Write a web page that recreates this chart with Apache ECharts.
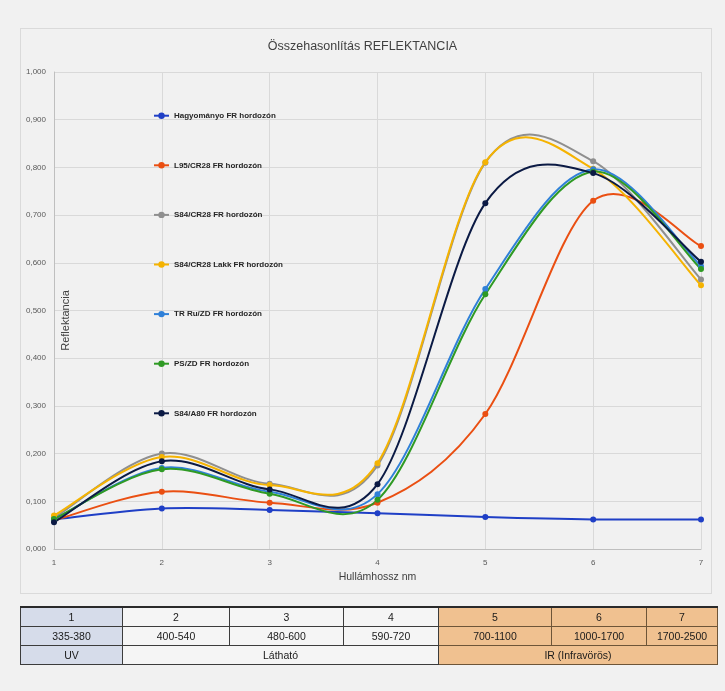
<!DOCTYPE html>
<html>
<head>
<meta charset="utf-8">
<script src="https://cdn.jsdelivr.net/npm/echarts@6/dist/echarts.min.js"></script>
<style>
  html, body { margin:0; padding:0; background:#f1f1f1; }
  #wrap { position:relative; width:725px; height:691px; overflow:hidden; }
  #panel { position:absolute; left:20px; top:28px; width:692px; height:566px; border:1px solid #dadada; box-sizing:border-box; }
  #chart { position:absolute; left:0; top:0; width:725px; height:691px; }
  #tbl { position:absolute; left:20px; top:606px; border-collapse:collapse; table-layout:fixed;
         font-family:"Liberation Sans",Arial,sans-serif; font-size:10.5px; color:#1a1a1a; }
  #tbl td { border:1px solid #3c3c3c; height:18px; padding:0; text-align:center; line-height:18px; background:#f5f5f5; }
  #tbl tr:first-child td { border-top:2px solid #2a2a2a; }
  #tbl td.uv { background:#d6dcea; }
  #tbl td.ir { background:#f0c190; border-color:#6e5538; }
</style>
</head>
<body>
<div id="wrap">
  <div id="panel"></div>
  <div id="chart"></div>
  <table id="tbl"></table>
</div>
<script>
// ---- data ----
const xCats = ['1','2','3','4','5','6','7'];
const seriesNames = ['Hagyományo FR hordozón','L95/CR28 FR hordozón','S84/CR28 FR hordozón','S84/CR28 Lakk FR hordozón','TR Ru/ZD FR hordozón','PS/ZD FR hordozón','S84/A80 FR hordozón'];
const hagyomanyo = [0.062, 0.085, 0.082, 0.075, 0.067, 0.062, 0.062];
const l95cr28    = [0.060, 0.120, 0.097, 0.097, 0.283, 0.730, 0.635];
const s84cr28    = [0.065, 0.200, 0.137, 0.175, 0.810, 0.813, 0.565];
const s84lakk    = [0.070, 0.193, 0.134, 0.180, 0.811, 0.797, 0.553];
const trRuZd     = [0.062, 0.170, 0.120, 0.115, 0.545, 0.796, 0.593];
const psZd       = [0.063, 0.167, 0.116, 0.103, 0.534, 0.791, 0.587];
const s84a80     = [0.056, 0.184, 0.125, 0.136, 0.725, 0.788, 0.602];
const tableNums   = ['1','2','3','4','5','6','7'];
const tableRanges = ['335-380','400-540','480-600','590-720','700-1100','1000-1700','1700-2500'];
const tableBands  = [['UV',1],['Látható',3],['IR (Infravörös)',3]];

const allValues = [hagyomanyo, l95cr28, s84cr28, s84lakk, trRuZd, psZd, s84a80];
const colors = ['#1f3fc6','#ea4f12','#8f8f8f','#f5b301','#2f80d8','#2f9a24','#0b1a44'];
const colW = [102,107,114,95,113,95,71];

// ---- table ----
(function(){
  const t = document.getElementById('tbl');
  let cg = '<colgroup>' + colW.map(w=>'<col style="width:'+w+'px">').join('') + '</colgroup>';
  const cls = i => i===0 ? 'uv' : (i>=4 ? 'ir' : '');
  let r1 = '<tr>' + tableNums.map((v,i)=>'<td class="'+cls(i)+'">'+v+'</td>').join('') + '</tr>';
  let r2 = '<tr>' + tableRanges.map((v,i)=>'<td class="'+cls(i)+'">'+v+'</td>').join('') + '</tr>';
  let r3 = '<tr>' + tableBands.map((b,i)=>'<td colspan="'+b[1]+'" class="'+(i===0?'uv':(i===2?'ir':''))+'">'+b[0]+'</td>').join('') + '</tr>';
  t.innerHTML = cg + r1 + r2 + r3;
})();

// ---- chart ----
function smoothCurve(pts, color){
  const children = [];
  for (let i=0;i<pts.length-1;i++){
    const p0 = pts[i-1] || pts[i], p1 = pts[i], p2 = pts[i+1], p3 = pts[i+2] || pts[i+1];
    children.push({
      type:'bezierCurve',
      shape:{
        x1:p1[0], y1:p1[1],
        cpx1:p1[0]+(p2[0]-p0[0])/6, cpy1:p1[1]+(p2[1]-p0[1])/6,
        cpx2:p2[0]-(p3[0]-p1[0])/6, cpy2:p2[1]-(p3[1]-p1[1])/6,
        x2:p2[0], y2:p2[1]
      },
      style:{stroke:color, lineWidth:2, fill:null}
    });
  }
  return {type:'group', children};
}

const series = [];
allValues.forEach((vals, k) => {
  series.push({
    type:'custom', name:'curve'+k, coordinateSystem:'cartesian2d', silent:true,
    data: vals.map((v,i)=>[i,v]), encode:{x:0,y:1},
    renderItem:(params, api) => {
      if (params.dataIndex !== 0) return null;
      const pts = vals.map((v,i)=>api.coord([i,v]));
      return smoothCurve(pts, colors[k]);
    }
  });
  series.push({
    type:'line', name:seriesNames[k], data:vals, symbol:'circle', symbolSize:6,
    lineStyle:{width:0}, itemStyle:{color:colors[k]}, color:colors[k],
    emphasis:{disabled:true}, silent:true
  });
});

const chart = echarts.init(document.getElementById('chart'), null, {renderer:'canvas'});
const font = '"Liberation Sans",Arial,sans-serif';
chart.setOption({
  animation:false,
  backgroundColor:'transparent',
  title:{ text:'Összehasonlítás REFLEKTANCIA', left:'center', top:40.5, padding:0,
          textStyle:{ fontFamily:font, fontSize:12.5, fontWeight:'normal', color:'#404040' } },
  legend:{ data:seriesNames, orient:'vertical', left:153, top:111.7, padding:0,
           itemWidth:15, itemHeight:8, itemGap:41.6, lineStyle:{width:2},
           textStyle:{ fontFamily:font, fontSize:8, lineHeight:8, fontWeight:'bold', color:'#262626' } },
  grid:{ left:54, right:24, top:72, bottom:142 },
  xAxis:{ type:'category', data:xCats, boundaryGap:false,
          name:'Hullámhossz nm', nameLocation:'middle', nameGap:22,
          nameTextStyle:{ fontFamily:font, fontSize:10.5, color:'#404040' },
          axisLine:{ lineStyle:{ color:'#bfbfbf' } }, axisTick:{show:false},
          axisLabel:{ fontFamily:font, fontSize:8, color:'#595959', margin:10 },
          splitLine:{ show:true, lineStyle:{ color:'#d9d9d9' } } },
  yAxis:{ type:'value', min:0, max:1, interval:0.1,
          name:'Reflektancia', nameLocation:'middle', nameGap:-17, nameRotate:90, nameMoveOverlap:false,
          nameTextStyle:{ fontFamily:font, fontSize:11, color:'#404040', padding:[0,20,0,0] },
          axisLine:{ show:true, lineStyle:{ color:'#bfbfbf' } }, axisTick:{show:false},
          axisLabel:{ fontFamily:font, fontSize:8, color:'#595959', margin:8,
                      formatter: v => v.toFixed(3).replace('.', ',') },
          splitLine:{ show:true, lineStyle:{ color:'#d9d9d9' } } },
  series
});
</script>
</body>
</html>
